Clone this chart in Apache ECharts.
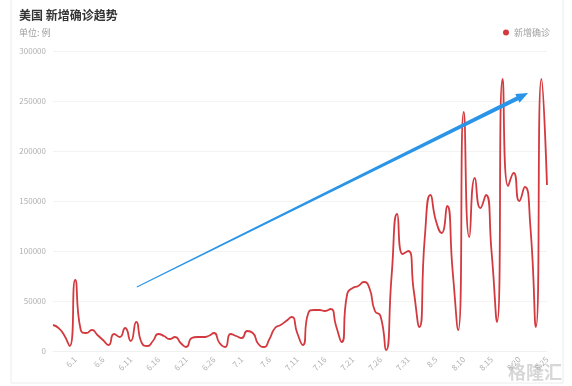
<!DOCTYPE html>
<html>
<head>
<meta charset="utf-8">
<script src="https://cdn.jsdelivr.net/npm/echarts@6/dist/echarts.min.js"></script>
<style>
html,body{margin:0;padding:0;background:#fff;}
#chart{width:572px;height:386px;}
</style>
</head>
<body>
<div id="chart"></div>
<script>
var titleText = '美国 新增确诊趋势';
var unitText = '单位: 例';
var seriesName = '新增确诊';
var dates = ['5.28','5.29','5.30','5.31',
  '6.1','6.2','6.3','6.4','6.5','6.6','6.7','6.8','6.9','6.10',
  '6.11','6.12','6.13','6.14','6.15','6.16','6.17','6.18','6.19','6.20',
  '6.21','6.22','6.23','6.24','6.25','6.26','6.27','6.28','6.29','6.30',
  '7.1','7.2','7.3','7.4','7.5','7.6','7.7','7.8','7.9','7.10',
  '7.11','7.12','7.13','7.14','7.15','7.16','7.17','7.18','7.19','7.20',
  '7.21','7.22','7.23','7.24','7.25','7.26','7.27','7.28','7.29','7.30','7.31',
  '8.1','8.2','8.3','8.4','8.5','8.6','8.7','8.8','8.9','8.10',
  '8.11','8.12','8.13','8.14','8.15','8.16','8.17','8.18','8.19','8.20',
  '8.21','8.22','8.23','8.24','8.25'];
var newCases = [26000,23000,16000,5000,
  71000,21000,18000,21000,16000,11000,6000,17000,14000,23000,
  10000,29000,8000,5000,10000,17000,15000,12000,14000,8000,
  4000,13000,14000,14000,15000,18000,8000,4000,17000,15000,
  13000,20000,18000,7000,4000,12000,23000,26000,30000,34000,
  18000,6000,38000,41000,41000,40000,42000,25000,9000,57000,
  63000,65000,69000,63000,40000,35000,1000,75000,137000,97000,100000,
  60000,24000,115000,156000,130000,118000,145000,80000,21000,239000,
  114000,173000,143000,156000,100000,29000,272000,165000,178000,150000,
  164000,125000,24000,272000,166000];
var yTicks = [0,50000,100000,150000,200000,250000,300000];
// trend arrow annotation, in data units: [category index, value]
var arrowFrom = [15.1, 64000];
var arrowTo = [85.6, 258000];

var chart = echarts.init(document.getElementById('chart'), null, {renderer:'canvas'});
var FONT = '"Noto Sans CJK SC", "Noto Sans", sans-serif';

function coordAt(api, pt){
  var i0 = Math.floor(pt[0]);
  var f = pt[0] - i0;
  var a = api.coord([i0, pt[1]]);
  var b = api.coord([i0 + 1, pt[1]]);
  return [a[0] + (b[0]-a[0])*f, a[1]];
}

chart.setOption({
  backgroundColor:'#fff',
  animation:false,
  textStyle:{fontFamily:FONT},
  title:[
    {text:titleText, left:14, top:4, textStyle:{fontSize:12, fontWeight:'bold', color:'#333', fontFamily:FONT}},
    {text:unitText, left:14, top:23, textStyle:{fontSize:9, fontWeight:'normal', color:'#a0a0a0', fontFamily:FONT}}
  ],
  legend:{
    data:[seriesName], right:17, top:23, icon:'circle', itemWidth:6, itemHeight:6, itemGap:4,
    textStyle:{fontSize:9, color:'#a0a0a0', fontFamily:FONT}
  },
  graphic:[
    {type:'rect', shape:{x:11, y:-10, width:552, height:393}, style:{fill:'none', stroke:'#ececec', lineWidth:1}, silent:true, z:-1},
    {type:'text', right:10, bottom:5, style:{text:'格隆汇', fill:'rgba(175,175,175,0.5)', font:'bold 18px "Noto Sans CJK SC"'}, silent:true}
  ],
  grid:{left:53, right:25, top:51, bottom:35, containLabel:false},
  xAxis:{
    type:'category', data:dates, boundaryGap:false,
    axisLine:{show:true, lineStyle:{color:'#f0f0f0'}},
    axisTick:{show:false},
    axisLabel:{
      rotate:45, fontSize:8, color:'#b0b0b0', margin:7, fontFamily:FONT,
      interval:function(idx){ return idx >= 4 && (idx - 4) % 5 === 0; }
    },
    splitLine:{show:false}
  },
  yAxis:{
    type:'value', min:yTicks[0], max:yTicks[yTicks.length-1], interval:yTicks[1]-yTicks[0],
    axisLine:{show:false}, axisTick:{show:false},
    axisLabel:{fontSize:8, color:'#b0b0b0', margin:7, fontFamily:FONT, formatter:function(v){ return String(v); }},
    splitLine:{lineStyle:{color:'#f3f3f3'}}
  },
  series:[
    {
      name:seriesName, type:'line', data:newCases, smooth:0.6, showSymbol:false, symbol:'circle',
      itemStyle:{color:'#d33a3f'},
      lineStyle:{color:'#d33a3f', width:1.8}
    },
    {
      type:'custom', silent:true, z:5,
      data:[[arrowFrom[0], arrowFrom[1]]],
      renderItem:function(params, api){
        var p1 = coordAt(api, arrowFrom);
        var p2 = coordAt(api, arrowTo);
        var dx = p2[0]-p1[0], dy = p2[1]-p1[1];
        var len = Math.sqrt(dx*dx+dy*dy);
        var ux = dx/len, uy = dy/len, nx = -uy, ny = ux;
        var headLen = 12, headW = 4.8, w0 = 0.45, w1 = 2.1;
        var bx = p2[0]-ux*headLen, by = p2[1]-uy*headLen;
        var pts = [
          [p1[0]+nx*w0, p1[1]+ny*w0],
          [bx+nx*w1, by+ny*w1],
          [bx+nx*headW, by+ny*headW],
          [p2[0], p2[1]],
          [bx-nx*headW, by-ny*headW],
          [bx-nx*w1, by-ny*w1],
          [p1[0]-nx*w0, p1[1]-ny*w0]
        ];
        return {type:'polygon', shape:{points:pts}, style:{fill:'#2a95e8'}};
      }
    }
  ]
});
</script>
</body>
</html>
